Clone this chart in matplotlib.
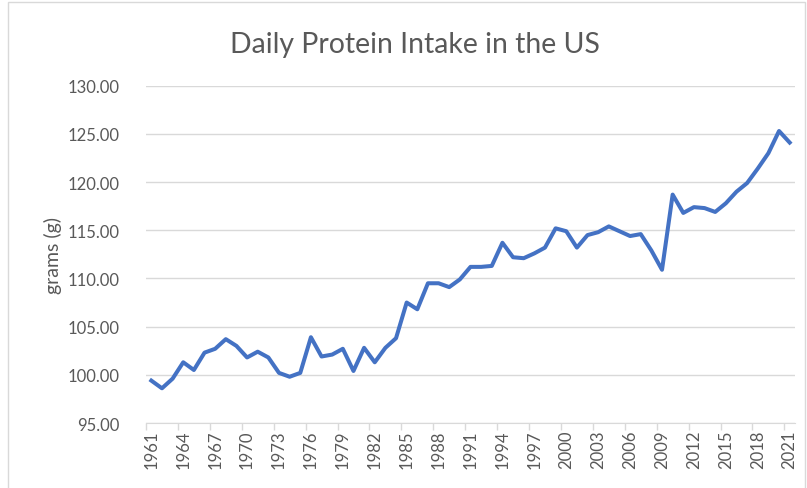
import matplotlib
matplotlib.use("Agg")
import matplotlib.pyplot as plt
from matplotlib.patches import Rectangle

years = list(range(1961, 2022))
protein = [99.4, 98.6, 99.6, 101.3, 100.5, 102.3, 102.7, 103.7, 103.0, 101.8,
           102.4, 101.8, 100.2, 99.8, 100.2, 103.9, 101.9, 102.1, 102.7, 100.4,
           102.8, 101.3, 102.8, 103.8, 107.5, 106.8, 109.5, 109.5, 109.1, 109.9,
           111.2, 111.2, 111.3, 113.7, 112.2, 112.1, 112.6, 113.2, 115.2, 114.9,
           113.2, 114.5, 114.8, 115.4, 114.9, 114.4, 114.6, 112.9, 110.9, 118.7,
           116.8, 117.4, 117.3, 116.9, 117.8, 119.0, 119.9, 121.4, 123.0, 125.3,
           124.1]
yticks = [95, 100, 105, 110, 115, 120, 125, 130]

plt.rcParams['font.family'] = ['Lato', 'DejaVu Sans']
grey = '#595959'
gridc = '#d9d9d9'

fig = plt.figure(figsize=(8.07, 4.89), dpi=100)
fig.patches.append(Rectangle((8/807, -0.01), 797/807, 1 - 3/489 + 0.01,
                             transform=fig.transFigure, fill=False,
                             edgecolor=gridc, linewidth=1))
ax = fig.add_axes([146/807, 1 - 424/489, 649/807, (424 - 86.7)/489])

x = list(range(len(years)))
ax.plot(x, protein, color='#4472C4', linewidth=2.9, solid_joinstyle='round')

ax.set_xlim(-0.5, len(years) - 0.5)
ax.set_ylim(95, 130)
ax.set_yticks(yticks)
ax.set_yticklabels([f"{v:.2f}" for v in yticks], fontsize=12, color=grey)
ax.yaxis.grid(True, color=gridc, linewidth=1)
ax.set_axisbelow(True)
ax.tick_params(axis='y', length=0, pad=19)

# category labels at centres, tick marks on the boundaries
ax.set_xticks(x[::3])
ax.set_xticklabels([str(years[i]) for i in x[::3]], rotation=90,
                   fontsize=12, color=grey)
ax.tick_params(axis='x', which='major', length=0, pad=5)
ax.set_xticks([i - 0.5 for i in x[::3]], minor=True)
ax.tick_params(axis='x', which='minor', length=5, color=gridc, width=1)

for s in ['top', 'right', 'left']:
    ax.spines[s].set_visible(False)
ax.spines['bottom'].set_color(gridc)

ax.set_ylabel("grams (g)", fontsize=14, color=grey, labelpad=4)
fig.text(0.514, 1 - 45/489, "Daily Protein Intake in the US", fontsize=20.4,
         color=grey, ha='center', va='center')

fig.savefig("out.png", dpi=100)
